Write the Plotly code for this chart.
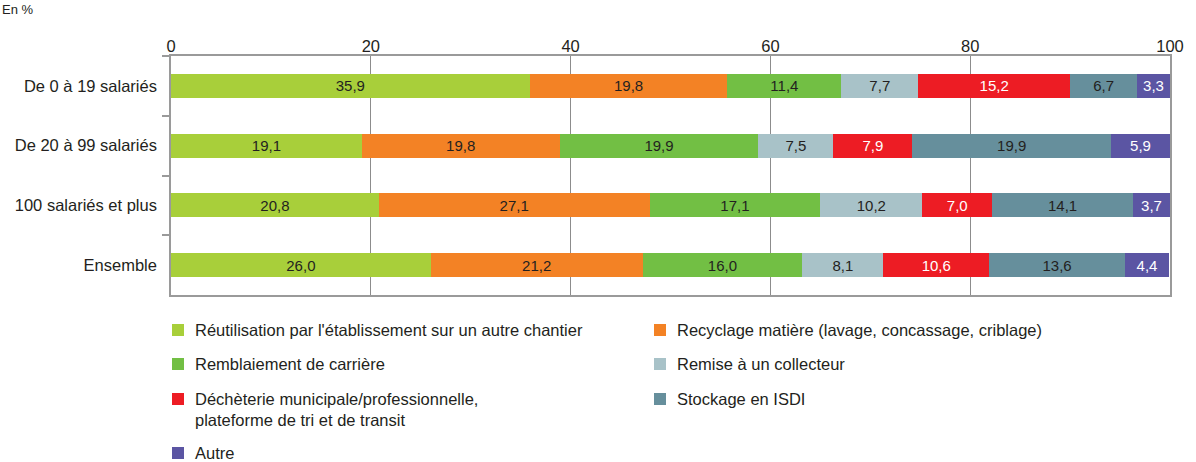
import plotly.graph_objects as go

categories = ["De 0 à 19 salariés", "De 20 à 99 salariés", "100 salariés et plus", "Ensemble"]

series_names = [
    "Réutilisation par l'établissement sur un autre chantier",
    "Recyclage matière (lavage, concassage, criblage)",
    "Remblaiement de carrière",
    "Remise à un collecteur",
    "Déchèterie municipale/professionnelle,<br>plateforme de tri et de transit",
    "Stockage en ISDI",
    "Autre",
]

reutilisation = [35.9, 19.1, 20.8, 26.0]
recyclage = [19.8, 19.8, 27.1, 21.2]
remblaiement = [11.4, 19.9, 17.1, 16.0]
remise = [7.7, 7.5, 10.2, 8.1]
decheterie = [15.2, 7.9, 7.0, 10.6]
stockage = [6.7, 19.9, 14.1, 13.6]
autre = [3.3, 5.9, 3.7, 4.4]

series_values = [reutilisation, recyclage, remblaiement, remise, decheterie, stockage, autre]
colors = ["#A8CF3A", "#F38225", "#72BF44", "#A8C2C8", "#ED1C24", "#668F9C", "#5B55A3"]
text_colors = ["#231F20", "#231F20", "#231F20", "#231F20", "#FFFFFF", "#231F20", "#FFFFFF"]

x_ticks = [0, 20, 40, 60, 80, 100]

FONT = "Liberation Sans, Arial, sans-serif"
W, H = 1196, 462
L, R, T, B = 171, 26, 56, 167
PW = W - L - R
PH = H - T - B
TXT = "#231F20"

fig = go.Figure()
for name, vals, col, tcol in zip(series_names, series_values, colors, text_colors):
    fig.add_trace(go.Bar(
        y=categories, x=vals, name=name, orientation="h",
        marker=dict(color=col, line=dict(width=0)),
        texttemplate="%{x:.1f}", textposition="inside", insidetextanchor="middle",
        textangle=0, constraintext="none",
        textfont=dict(family=FONT, size=15, color=tcol),
        showlegend=False, hoverinfo="skip",
    ))

def px_x(x):
    return (x - L) / PW

def px_y(y):
    return (H - B - y) / PH

# manual legend (two columns): (square x, row center y, square center y)
legend_pos = [
    (172, 330, 330), (654, 330, 330),
    (172, 364, 364), (654, 364, 364),
    (172, 409, 399), (654, 399, 399),
    (172, 453, 453),
]
shapes = []
annotations = []
for (lx, ly, sy), name, col in zip(legend_pos, series_names, colors):
    shapes.append(dict(type="rect", xref="paper", yref="paper",
                       x0=px_x(lx), x1=px_x(lx + 12), y0=px_y(sy + 6), y1=px_y(sy - 6),
                       fillcolor=col, line=dict(width=0)))
    annotations.append(dict(xref="paper", yref="paper", x=px_x(lx + 21), y=px_y(ly),
                            xanchor="left", yanchor="middle", align="left", showarrow=False,
                            text=name, font=dict(family=FONT, size=16.5, color=TXT)))

annotations.append(dict(xref="paper", yref="paper", x=px_x(0), y=px_y(0),
                        xanchor="left", yanchor="top", showarrow=False,
                        text="En %", font=dict(family=FONT, size=13, color=TXT)))

fig.update_layout(
    barmode="stack", bargap=0.6,
    width=W, height=H,
    margin=dict(l=L, r=R, t=T, b=B, pad=0, autoexpand=False),
    paper_bgcolor="white", plot_bgcolor="white",
    separators=", ",
    font=dict(family=FONT, size=16.5, color=TXT),
    shapes=shapes, annotations=annotations,
    xaxis=dict(side="top", range=[0, 100], tickvals=x_ticks, ticktext=[str(v) for v in x_ticks],
               showgrid=True, gridcolor="#8C8C8C", gridwidth=1,
               showline=True, linecolor="#9A9A9A", linewidth=1.5, mirror=True,
               ticks="", ticklabelstandoff=-4, zeroline=False,
               tickfont=dict(family=FONT, size=16.5, color=TXT)),
    yaxis=dict(autorange="reversed", showline=True, linecolor="#9A9A9A", linewidth=1.5,
               mirror=True, ticks="outside", tickson="boundaries", ticklen=7,
               tickcolor="#9A9A9A", tickwidth=1.5, ticklabelstandoff=9,
               tickfont=dict(family=FONT, size=16.5, color=TXT)),
)

fig.write_html("out.html", config={"displayModeBar": False},
               post_script="document.body.style.margin='0';")
